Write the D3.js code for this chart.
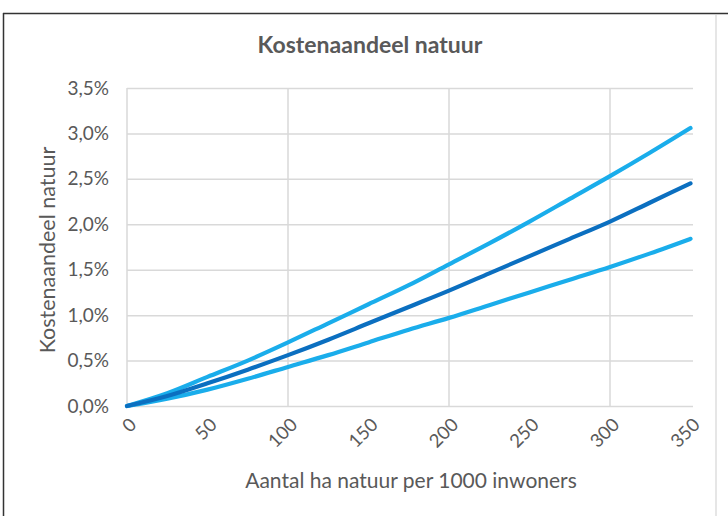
<!DOCTYPE html>
<html>
<head>
<meta charset="utf-8">
<script src="https://cdn.jsdelivr.net/npm/d3@7"></script>
<style>
  html, body { margin: 0; padding: 0; background: #fff; }
  svg { display: block; }
  text { font-family: Lato, "Open Sans", sans-serif; fill: #595959; }
</style>
</head>
<body>
<svg id="chart" width="728" height="516"></svg>
<script>
// ---- data ----
const xValues = [0, 25, 50, 75, 100, 125, 150, 175, 200, 225, 250, 275, 300, 325, 350];
const upperSeries = [0, 0.14, 0.32, 0.50, 0.70, 0.91, 1.12, 1.33, 1.56, 1.79, 2.03, 2.28, 2.53, 2.79, 3.06];
const middleSeries = [0, 0.11, 0.25, 0.40, 0.56, 0.73, 0.91, 1.09, 1.27, 1.46, 1.65, 1.84, 2.03, 2.24, 2.45];
const lowerSeries = [0, 0.08, 0.18, 0.30, 0.43, 0.56, 0.70, 0.84, 0.97, 1.11, 1.25, 1.39, 1.53, 1.68, 1.84];
const xTickLabels = [0, 50, 100, 150, 200, 250, 300, 350];
const xGridValues = [100, 200, 300];
const yTickValues = [0, 0.5, 1.0, 1.5, 2.0, 2.5, 3.0, 3.5];
const titleText = "Kostenaandeel natuur";
const yTitleText = "Kostenaandeel natuur";
const xTitleText = "Aantal ha natuur per 1000 inwoners";

// ---- layout ----
const svg = d3.select("#chart");
const x = d3.scaleLinear().domain([0, 350]).range([127, 690.5]);
const y = d3.scaleLinear().domain([0, 3.5]).range([406, 88]);
const locale = d3.formatLocale({decimal: ",", thousands: ".", grouping: [3], currency: ["€", ""]});
const fmt = v => locale.format(".1f")(v) + "%";

// frame
svg.append("line").attr("x1", 3.5).attr("x2", 3.5).attr("y1", 13).attr("y2", 516)
  .attr("stroke", "#333").attr("stroke-width", 1.5);
svg.append("line").attr("x1", 3).attr("x2", 728).attr("y1", 13.5).attr("y2", 13.5)
  .attr("stroke", "#333").attr("stroke-width", 1.5);
svg.append("line").attr("x1", 716).attr("x2", 716).attr("y1", 15).attr("y2", 516)
  .attr("stroke", "#e6e6e6").attr("stroke-width", 2);

// title
svg.append("text").attr("x", 370).attr("y", 53).attr("text-anchor", "middle")
  .style("font-size", "23px").style("font-weight", "700").text(titleText);

// horizontal grid via axis
const yAxis = d3.axisLeft(y).tickValues(yTickValues).tickSize(-(x(350) - x(0) + 2.5)).tickFormat(fmt).tickPadding(18);
const gy = svg.append("g").attr("transform", `translate(${x(0)},0)`).call(yAxis);
gy.select(".domain").remove();
gy.selectAll(".tick line").attr("stroke", "#d9d9d9").attr("stroke-width", 1.5);
gy.selectAll(".tick text").style("font-size", "19px").style("fill", "#595959").style("font-family", "Lato, sans-serif");

// vertical grid
svg.append("g").selectAll("line").data(xGridValues).join("line")
  .attr("x1", d => x(d)).attr("x2", d => x(d)).attr("y1", y(3.5)).attr("y2", y(0))
  .attr("stroke", "#d9d9d9").attr("stroke-width", 1.5);
// left axis line
svg.append("line").attr("x1", x(0)).attr("x2", x(0)).attr("y1", y(3.5)).attr("y2", y(0))
  .attr("stroke", "#d9d9d9").attr("stroke-width", 1.5);

// x tick labels (rotated)
const xAxis = d3.axisBottom(x).tickValues(xTickLabels).tickSize(0).tickFormat(d3.format("d"));
const gx = svg.append("g").attr("transform", `translate(0,${y(0)})`).call(xAxis);
gx.select(".domain").remove();
gx.selectAll(".tick text")
  .attr("text-anchor", "end").attr("x", 0).attr("y", 0).attr("dy", null)
  .attr("transform", "translate(10,20) rotate(-45)")
  .style("font-size", "18.5px").style("fill", "#595959").style("font-family", "Lato, sans-serif");

// axis titles
svg.append("text").attr("transform", "translate(55,250) rotate(-90)").attr("text-anchor", "middle")
  .style("font-size", "21.5px").text(yTitleText);
svg.append("text").attr("x", 411).attr("y", 488).attr("text-anchor", "middle")
  .style("font-size", "21px").text(xTitleText);

// lines
const line = d3.line().x((d, i) => x(xValues[i])).y(d => y(d)).curve(d3.curveMonotoneX);
const series = [
  {values: lowerSeries, color: "#1AADEB"},
  {values: upperSeries, color: "#1AADEB"},
  {values: middleSeries, color: "#0B6FC0"}
];
svg.append("g").selectAll("path").data(series).join("path")
  .attr("d", d => line(d.values)).attr("fill", "none")
  .attr("stroke", d => d.color).attr("stroke-width", 4.2).attr("stroke-linecap", "round");
</script>
</body>
</html>
